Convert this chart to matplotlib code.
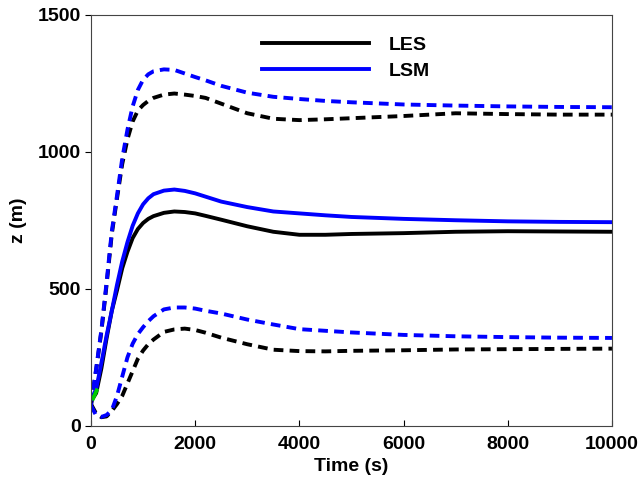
import matplotlib.pyplot as plt

# time axis (s)
t = [0, 100, 200, 300, 400, 500, 600, 700, 800, 900, 1000, 1100, 1200, 1400, 1600, 1800,
     2000, 2200, 2500, 3000, 3500, 4000, 4500, 5000, 6000, 7000, 8000, 9000, 10000]

# LES (black)
les_mean = [90, 120, 210, 320, 420, 495, 575, 635, 685, 718, 740, 755, 765, 777, 782, 780,
            775, 766, 752, 728, 708, 697, 697, 700, 703, 708, 710, 709, 708]
les_upper = [75, 205, 345, 515, 700, 830, 955, 1045, 1110, 1150, 1170, 1185, 1196, 1208, 1212, 1208,
             1203, 1196, 1175, 1140, 1120, 1115, 1118, 1122, 1130, 1140, 1137, 1135, 1135]
les_lower = [80, 45, 32, 35, 55, 80, 110, 155, 200, 245, 275, 298, 315, 343, 352, 355,
             350, 340, 322, 298, 278, 273, 272, 274, 276, 279, 280, 281, 282]

# LSM (blue)
lsm_mean = [95, 135, 230, 330, 420, 515, 600, 670, 730, 775, 808, 830, 845, 858, 862, 857,
            848, 836, 818, 798, 782, 775, 768, 762, 755, 750, 746, 744, 743]
lsm_upper = [75, 210, 350, 525, 710, 840, 975, 1080, 1165, 1225, 1262, 1282, 1293, 1300, 1298, 1285,
             1272, 1260, 1240, 1215, 1200, 1192, 1185, 1180, 1172, 1168, 1165, 1163, 1162]
lsm_lower = [75, 38, 33, 40, 58, 110, 180, 250, 300, 335, 360, 382, 400, 425, 432, 432,
             428, 420, 410, 388, 370, 353, 347, 341, 332, 327, 324, 322, 321]

# short green start segment
green_t = [40, 110]
green_z = [100, 130]

plt.rcParams['font.family'] = 'Liberation Sans'
plt.rcParams['font.weight'] = 'bold'

fig = plt.figure(figsize=(6.42, 4.82), dpi=100)
ax = fig.add_axes([0.1417, 0.1162, 0.8115, 0.8537])

lw = 2.8
dash = (2.5, 1.6)
ax.plot(t, les_upper, color='black', lw=lw, ls='--', dashes=dash)
ax.plot(t, les_lower, color='black', lw=lw, ls='--', dashes=dash)
ax.plot(t, lsm_upper, color='blue', lw=lw, ls='--', dashes=dash)
ax.plot(t, lsm_lower, color='blue', lw=lw, ls='--', dashes=dash)
ax.plot(t, les_mean, color='black', lw=lw, label='LES')
ax.plot(t, lsm_mean, color='blue', lw=lw, label='LSM')
ax.plot(green_t, green_z, color='#00cc00', lw=lw)

ax.set_xlim(0, 10000)
ax.set_ylim(0, 1500)
ax.set_xticks([0, 2000, 4000, 6000, 8000, 10000])
ax.set_yticks([0, 500, 1000, 1500])
ax.tick_params(axis='y', direction='out', length=4, labelsize=14, width=0.8, pad=3)
ax.tick_params(axis='x', direction='in', length=4, labelsize=14, width=0.8, pad=7)
for s in ax.spines.values():
    s.set_color('#444444')
    s.set_linewidth(0.8)

ax.set_xlabel('Time (s)', fontsize=14, fontweight='bold', labelpad=4)
ax.set_ylabel('z (m)', fontsize=14, fontweight='bold', labelpad=8)

ax.legend(loc='upper left', bbox_to_anchor=(0.295, 0.99), frameon=False, fontsize=14,
          handlelength=5.5, handletextpad=1.0, labelspacing=0.45)

plt.savefig('out.png', dpi=100)
